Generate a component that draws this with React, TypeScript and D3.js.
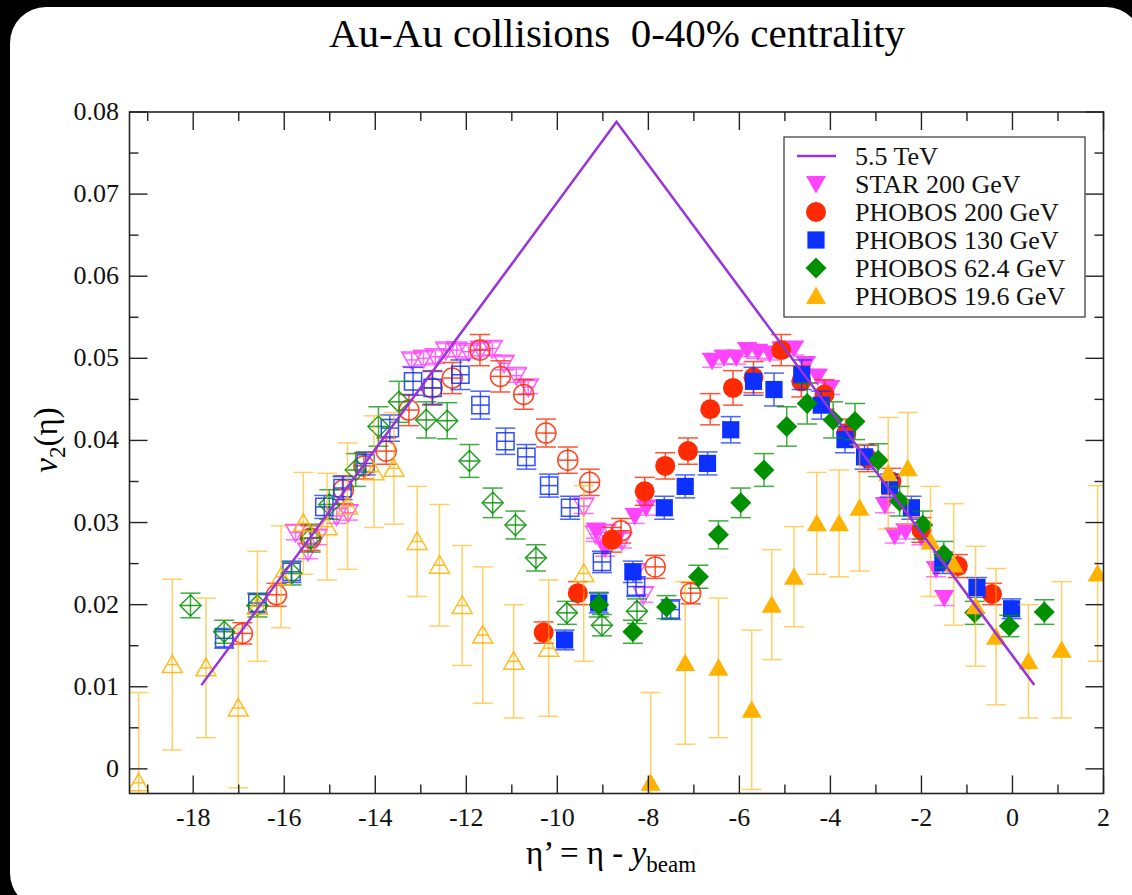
import React from 'react';
import * as d3 from 'd3';

// eta' values, v2 values, v2 errors
const line55 = [[-17.82, 0.0102], [-8.7, 0.0788], [0.48, 0.0102]];

const starFilled = [
  [-9.15, 0.029, 0.0009], [-8.95, 0.0268, 0.0009], [-8.7, 0.028, 0.0009], [-8.3, 0.0308, 0.0009], [-8.05, 0.0318, 0.0009],
  [-6.6, 0.0497, 0.0008], [-6.34, 0.0501, 0.0008], [-6.07, 0.0501, 0.0008], [-5.83, 0.051, 0.0008], [-5.59, 0.0508, 0.0008],
  [-5.33, 0.0506, 0.0008], [-5.07, 0.0511, 0.0008], [-4.8, 0.0512, 0.0008], [-4.54, 0.0493, 0.0008], [-4.28, 0.0478, 0.0008],
  [-4.01, 0.0464, 0.0008],
  [-2.8, 0.0321, 0.0009], [-2.59, 0.0284, 0.0009], [-2.35, 0.0289, 0.0009], [-2.0, 0.0282, 0.0009], [-1.68, 0.0243, 0.0009], [-1.5, 0.0208, 0.0009],
];
const starOpen = [
  [-15.75, 0.0288, 0.0009], [-15.48, 0.0265, 0.0009], [-15.28, 0.0282, 0.0009], [-14.85, 0.0308, 0.0009], [-14.6, 0.0312, 0.0009],
  [-13.2, 0.0498, 0.0008], [-12.94, 0.05, 0.0008], [-12.68, 0.0502, 0.0008], [-12.45, 0.051, 0.0008], [-12.21, 0.051, 0.0008],
  [-11.95, 0.0508, 0.0008], [-11.69, 0.0511, 0.0008], [-11.43, 0.0512, 0.0008], [-11.17, 0.0494, 0.0008], [-10.9, 0.0479, 0.0008],
  [-10.64, 0.0465, 0.0008],
  [-9.42, 0.032, 0.0009], [-9.16, 0.0286, 0.0009], [-8.94, 0.0288, 0.0009], [-8.58, 0.0278, 0.0009], [-8.29, 0.024, 0.0009], [-8.11, 0.0212, 0.0009],
];

const phobos200Filled = [
  [-10.3, 0.0166, 0.0013], [-9.55, 0.0214, 0.0014], [-8.8, 0.0279, 0.0015], [-8.08, 0.0338, 0.0017], [-7.63, 0.0369, 0.0016],
  [-7.13, 0.0387, 0.0016], [-6.64, 0.0438, 0.0019], [-6.14, 0.0464, 0.0021], [-5.69, 0.0477, 0.0019], [-5.08, 0.051, 0.0019],
  [-4.64, 0.0472, 0.0019], [-4.13, 0.0456, 0.0018], [-3.65, 0.0409, 0.0017], [-3.18, 0.0378, 0.0016], [-2.66, 0.035, 0.0016],
  [-2.0, 0.0291, 0.0015], [-1.2, 0.0247, 0.0014], [-0.45, 0.0213, 0.0013],
];
const phobos200Open = [
  [-16.92, 0.0165, 0.0013], [-16.17, 0.0212, 0.0014], [-15.42, 0.0281, 0.0015], [-14.7, 0.034, 0.0017], [-14.25, 0.0369, 0.0016],
  [-13.76, 0.0387, 0.0016], [-13.26, 0.0437, 0.0019], [-12.75, 0.0464, 0.0021], [-12.31, 0.0476, 0.0019], [-11.7, 0.051, 0.0019],
  [-11.25, 0.0478, 0.0019], [-10.74, 0.0456, 0.0018], [-10.25, 0.0409, 0.0017], [-9.77, 0.0376, 0.0016], [-9.29, 0.0349, 0.0016],
  [-8.6, 0.029, 0.0015], [-7.85, 0.0246, 0.0014], [-7.07, 0.0214, 0.0013],
];

const phobos130Filled = [
  [-9.84, 0.0157, 0.0012], [-9.09, 0.0202, 0.0012], [-8.34, 0.024, 0.0013], [-7.65, 0.0318, 0.0014], [-7.19, 0.0344, 0.0014],
  [-6.7, 0.0372, 0.0014], [-6.19, 0.0413, 0.0016], [-5.69, 0.0472, 0.0017], [-5.24, 0.0462, 0.002], [-4.63, 0.048, 0.0018],
  [-4.2, 0.0443, 0.0017], [-3.68, 0.0401, 0.0016], [-3.25, 0.038, 0.0015], [-2.7, 0.0345, 0.0014], [-2.22, 0.0318, 0.0014],
  [-1.53, 0.0251, 0.0013], [-0.78, 0.0221, 0.0012], [-0.02, 0.0195, 0.0012],
];
const phobos130Open = [
  [-17.32, 0.0159, 0.0012], [-16.59, 0.0202, 0.0012], [-15.84, 0.024, 0.0013], [-15.12, 0.0319, 0.0014], [-14.72, 0.0342, 0.0014],
  [-14.21, 0.0372, 0.0014], [-13.68, 0.0415, 0.0016], [-13.17, 0.0472, 0.0017], [-12.74, 0.0464, 0.002], [-12.13, 0.048, 0.0018],
  [-11.69, 0.0443, 0.0017], [-11.14, 0.0399, 0.0016], [-10.68, 0.038, 0.0015], [-10.18, 0.0345, 0.0014], [-9.72, 0.0318, 0.0014],
  [-9.02, 0.0252, 0.0013], [-8.27, 0.0222, 0.0012], [-7.51, 0.0194, 0.0012],
];

const phobos62Filled = [
  [-9.09, 0.02, 0.0015], [-8.34, 0.0167, 0.0014], [-7.6, 0.0197, 0.0014], [-6.9, 0.0234, 0.0014], [-6.46, 0.0285, 0.0017],
  [-5.97, 0.0324, 0.0018], [-5.46, 0.0364, 0.002], [-4.96, 0.0417, 0.0024], [-4.51, 0.0445, 0.0025], [-3.94, 0.0425, 0.0022],
  [-3.46, 0.0423, 0.0022], [-2.95, 0.0376, 0.002], [-2.48, 0.0326, 0.0018], [-1.97, 0.0297, 0.0017], [-1.51, 0.0261, 0.0016],
  [-0.83, 0.019, 0.0014], [-0.07, 0.0174, 0.0013], [0.7, 0.0191, 0.0015],
];
const phobos62Open = [
  [-18.06, 0.0199, 0.0015], [-17.32, 0.0167, 0.0014], [-16.59, 0.0199, 0.0014], [-15.84, 0.0238, 0.0014], [-15.42, 0.0281, 0.0017],
  [-15.01, 0.0322, 0.0018], [-14.43, 0.0364, 0.002], [-13.93, 0.0417, 0.0024], [-13.48, 0.0447, 0.0025], [-12.88, 0.0425, 0.0022],
  [-12.42, 0.0424, 0.0022], [-11.93, 0.0375, 0.002], [-11.42, 0.0324, 0.0018], [-10.92, 0.0297, 0.0017], [-10.47, 0.0257, 0.0016],
  [-9.79, 0.019, 0.0014], [-9.02, 0.0175, 0.0013], [-8.25, 0.0192, 0.0015],
];

const phobos19Filled = [
  [-7.95, -0.0017, 0.011], [-7.19, 0.0129, 0.0099], [-6.46, 0.0123, 0.0085], [-5.73, 0.0072, 0.0097], [-5.29, 0.02, 0.0067],
  [-4.8, 0.0234, 0.0061], [-4.3, 0.0299, 0.0062], [-3.81, 0.0299, 0.0065], [-3.36, 0.0318, 0.0077], [-2.73, 0.036, 0.0068],
  [-2.3, 0.0366, 0.0068], [-1.8, 0.0277, 0.0067], [-1.29, 0.0249, 0.0074], [-0.81, 0.0198, 0.0073], [-0.36, 0.0161, 0.0083],
  [0.35, 0.0131, 0.0069], [1.08, 0.0145, 0.0083], [1.87, 0.0238, 0.0107],
];
const phobos19Open = [
  [-19.2, -0.0017, 0.011], [-18.46, 0.0127, 0.0104], [-17.72, 0.0123, 0.0085], [-17.01, 0.0074, 0.0097], [-16.59, 0.0198, 0.0067],
  [-16.07, 0.0234, 0.0062], [-15.58, 0.0299, 0.0062], [-15.06, 0.0295, 0.0065], [-14.61, 0.032, 0.0077], [-14.03, 0.0362, 0.0068],
  [-13.59, 0.0366, 0.0068], [-13.08, 0.0277, 0.0067], [-12.59, 0.0248, 0.0074], [-12.09, 0.0199, 0.0073], [-11.64, 0.0163, 0.0083],
  [-10.96, 0.0131, 0.0069], [-10.19, 0.0147, 0.0083], [-9.42, 0.0238, 0.0107],
];

const xTicks = [-18, -16, -14, -12, -10, -8, -6, -4, -2, 0, 2];
const yTicks = [0, 0.01, 0.02, 0.03, 0.04, 0.05, 0.06, 0.07, 0.08];

const legendLabels = ['5.5 TeV', 'STAR 200 GeV', 'PHOBOS 200 GeV', 'PHOBOS 130 GeV', 'PHOBOS 62.4 GeV', 'PHOBOS 19.6 GeV'];

const FONT = '"Liberation Serif", Tinos, "DejaVu Serif", "Times New Roman", serif';
const W = 1132, H = 895;
const L = 129.5, R = 1103.5, T = 112, B = 793.5;

const series = [
  { name: 'star', shape: 'tdown', color: '#ff44ff', filled: starFilled, open: starOpen, errOp: 0.75 },
  { name: 'p200', shape: 'circle', color: '#ff2a00', filled: phobos200Filled, open: phobos200Open, errOp: 0.8 },
  { name: 'p130', shape: 'square', color: '#0b30ff', filled: phobos130Filled, open: phobos130Open, errOp: 0.75 },
  { name: 'p62', shape: 'diamond', color: '#009000', filled: phobos62Filled, open: phobos62Open, errOp: 0.75 },
  { name: 'p19', shape: 'tup', color: '#ffb300', filled: phobos19Filled, open: phobos19Open, errOp: 0.6 },
];

function shapePath(shape: string) {
  switch (shape) {
    case 'circle': return 'M10,0A10,10 0 1,1 -10,0A10,10 0 1,1 10,0Z';
    case 'square': return 'M-8.6,-8.6H8.6V8.6H-8.6Z';
    case 'diamond': return 'M0,-10.5L10.5,0L0,10.5L-10.5,0Z';
    case 'tup': return 'M0,-9.5L10,8L-10,8Z';
    default: return 'M0,9.5L10,-8L-10,-8Z';
  }
}

function Marker({ shape, color, x, y, filled }: any) {
  const d = shapePath(shape);
  if (filled) {
    return <path d={d} transform={`translate(${x},${y})`} fill={color} stroke="none" />;
  }
  const h = shape === 'tup' || shape === 'tdown' ? 6 : shape === 'diamond' ? 10.5 : shape === 'circle' ? 10 : 8.6;
  return (
    <g transform={`translate(${x},${y})`} stroke={color} strokeWidth={1.5} fill="none" opacity={0.85}>
      <path d={d} />
      <line x1={-h} x2={h} y1={0} y2={0} />
    </g>
  );
}

function ErrBar({ color, x, y0, y1, op }: any) {
  return (
    <g stroke={color} strokeWidth={1.5} opacity={op}>
      <line x1={x} x2={x} y1={y0} y2={y1} />
      <line x1={x - 10} x2={x + 10} y1={y0} y2={y0} />
      <line x1={x - 10} x2={x + 10} y1={y1} y2={y1} />
    </g>
  );
}

export default function App() {
  const x = d3.scaleLinear().domain([-19.4, 2]).range([L, R]);
  const y = d3.scaleLinear().domain([-0.003, 0.08]).range([B, T]);
  const line = d3.line<number[]>().x(d => x(d[0])).y(d => y(d[1]));

  const xMinor = d3.range(-19, 3, 1);
  const yMinor = d3.range(0, 0.0801, 0.005);

  const legendY = [156, 184, 212, 240, 268, 296];
  const txt = { fontFamily: FONT };

  return (
    <svg width={W} height={H} style={{ position: 'absolute', left: 0, top: 0, fontFamily: FONT }}>
      <defs>
        <clipPath id="plotclip"><rect x={L} y={T} width={R - L} height={B - T} /></clipPath>
      </defs>
      <rect x={0} y={0} width={W} height={H} fill="#000" />
      <rect x={10} y={7} width={1132} height={902} rx={36} fill="#fff" />

      <text x={617} y={47} textAnchor="middle" fontSize={41} style={txt}>{'Au-Au collisions\u00a0 0-40% centrality'}</text>

      <g clipPath="url(#plotclip)">
        {series.map(s => (
          <g key={s.name}>
            {s.open.map((d, i) => (
              <ErrBar key={'eo' + i} color={s.color} x={x(d[0])} y0={y(d[1] - d[2])} y1={y(d[1] + d[2])} op={s.errOp} />
            ))}
            {s.open.map((d, i) => (
              <Marker key={'mo' + i} shape={s.shape} color={s.color} x={x(d[0])} y={y(d[1])} filled={false} />
            ))}
            {s.filled.map((d, i) => (
              <ErrBar key={'ef' + i} color={s.color} x={x(d[0])} y0={y(d[1] - d[2])} y1={y(d[1] + d[2])} op={s.errOp} />
            ))}
            {s.filled.map((d, i) => (
              <Marker key={'mf' + i} shape={s.shape} color={s.color} x={x(d[0])} y={y(d[1])} filled={true} />
            ))}
          </g>
        ))}
        <path d={line(line55) || ''} fill="none" stroke="#9932dd" strokeWidth={2.5} />
      </g>

      {/* frame and ticks */}
      <rect x={L} y={T} width={R - L} height={B - T} fill="none" stroke="#222" strokeWidth={1.6} />
      <g stroke="#222" strokeWidth={1.4}>
        {xMinor.map(v => {
          const major = v % 2 === 0;
          const len = major ? 18 : 9;
          return (
            <g key={'xt' + v}>
              <line x1={x(v)} x2={x(v)} y1={B} y2={B - len} />
              <line x1={x(v)} x2={x(v)} y1={T} y2={T + len} />
            </g>
          );
        })}
        {yMinor.map((v, i) => {
          const len = i % 2 === 0 ? 18 : 9;
          return (
            <g key={'yt' + i}>
              <line x1={L} x2={L + len} y1={y(v)} y2={y(v)} />
              <line x1={R} x2={R - len} y1={y(v)} y2={y(v)} />
            </g>
          );
        })}
      </g>
      <g fontSize={26} fill="#111" style={txt}>
        {xTicks.map(v => (
          <text key={'xl' + v} x={x(v)} y={826} textAnchor="middle" style={txt}>{v}</text>
        ))}
        {yTicks.map(v => (
          <text key={'yl' + v} x={119} y={y(v) + 8} textAnchor="end" style={txt}>{v === 0 ? '0' : d3.format('.2f')(v)}</text>
        ))}
      </g>

      <text x={611} y={864} textAnchor="middle" fontSize={33} style={txt}>
        η’ = η - <tspan fontStyle="italic">y</tspan><tspan fontSize={23} dy={8}>beam</tspan>
      </text>
      <text transform="translate(57,440) rotate(-90)" textAnchor="middle" fontSize={33} style={txt}>
        <tspan fontStyle="italic">v</tspan><tspan fontSize={23} dy={8}>2</tspan><tspan dy={-8}>(η)</tspan>
      </text>

      {/* legend */}
      <rect x={784} y={137} width={301} height={180} fill="#fff" stroke="#333" strokeWidth={1.2} />
      <line x1={797} x2={836} y1={legendY[0]} y2={legendY[0]} stroke="#9932dd" strokeWidth={2.5} />
      {series.map((s, i) => (
        <Marker key={'lg' + i} shape={s.shape} color={s.color} x={816} y={legendY[i + 1]} filled={true} />
      ))}
      <g fontSize={26} fill="#111" style={txt}>
        {legendLabels.map((t, i) => (
          <text key={t} x={855} y={legendY[i] + 9} style={txt}>{t}</text>
        ))}
      </g>
    </svg>
  );
}
